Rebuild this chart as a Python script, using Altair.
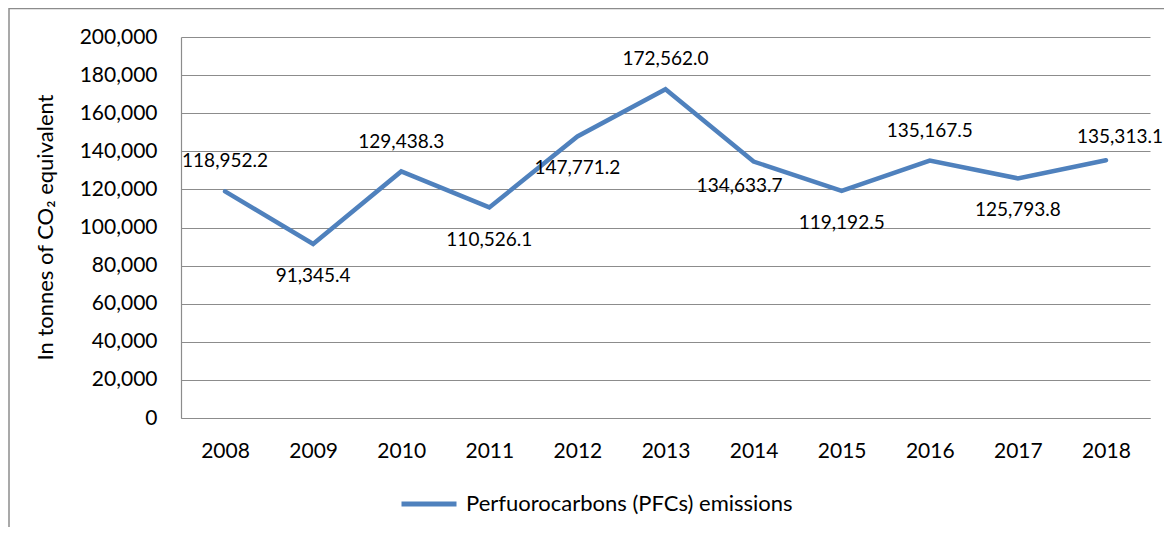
import altair as alt
import pandas as pd

# ---- data ----
years = ["2008", "2009", "2010", "2011", "2012", "2013", "2014", "2015", "2016", "2017", "2018"]
values = [118952.2, 91345.4, 129438.3, 110526.1, 147771.2, 172562.0,
          134633.7, 119192.5, 135167.5, 125793.8, 135313.1]
series_name = "Perfuorocarbons (PFCs) emissions"
y_ticks = [0, 20000, 40000, 60000, 80000, 100000, 120000, 140000, 160000, 180000, 200000]

df = pd.DataFrame({"year": years, "value": values, "series": [series_name] * len(years)})

# ---- style ----
FONT = "Lato, Noto Sans, sans-serif"
BLUE = "#4F81BD"
GRAY = "#8C8C8C"
# label placement (dx, dy) relative to each point, in pixels
label_offsets = {
    "2008": (0, -30), "2009": (0, 32), "2010": (0, -29), "2011": (0, 33),
    "2012": (0, 32), "2013": (0, -30), "2014": (-14, 24), "2015": (0, 32),
    "2016": (0, -30), "2017": (0, 32), "2018": (14, -23),
}

x_enc = alt.X("year:O", scale=alt.Scale(padding=0.5),
              axis=alt.Axis(title=None, labelAngle=0, ticks=False, grid=False,
                            domainColor=GRAY, domainWidth=1.2,
                            labelPadding=22, labelFontSize=21, labelFont=FONT,
                            labelColor="#000000"))
y_enc = alt.Y("value:Q", scale=alt.Scale(domain=[0, 200000], nice=False, zero=True),
              axis=alt.Axis(title="In tonnes of CO\u2082 equivalent", values=y_ticks,
                            format=",d", ticks=False, tickSize=0, labelPadding=24,
                            labelOverlap=False, labelFontSize=21, labelFont=FONT,
                            labelColor="#000000",
                            grid=True, gridColor=GRAY, gridWidth=1.2,
                            domainColor=GRAY, domainWidth=1.2,
                            titleFontSize=22, titleFont=FONT, titleFontWeight="normal",
                            titleColor="#000000", titleAngle=-90, titleAlign="center",
                            titleBaseline="alphabetic", titleX=-129, titleY=190))

line = alt.Chart(df).mark_line(strokeWidth=4.5, strokeCap="round", strokeJoin="miter").encode(
    x=x_enc, y=y_enc,
    color=alt.Color("series:N",
                    scale=alt.Scale(domain=[series_name], range=[BLUE]),
                    legend=alt.Legend(title=None, orient="none", legendX=218, legendY=437,
                                      symbolType="stroke", symbolSize=3025,
                                      symbolStrokeWidth=5, labelFontSize=22,
                                      labelFont=FONT, labelColor="#000000",
                                      labelLimit=0, labelOffset=7, padding=0)),
)

label_layers = []
for yr in years:
    dx, dy = label_offsets[yr]
    label_layers.append(
        alt.Chart(df).mark_text(font=FONT, fontSize=19, color="#000000",
                                dx=dx, dy=dy, baseline="middle", align="center")
        .encode(x=x_enc, y=y_enc, text=alt.Text("value:Q", format=",.1f"))
        .transform_filter(alt.datum.year == yr)
    )

frame_df = pd.DataFrame({"a": [0]})
left_border = alt.Chart(frame_df).mark_rule(color=GRAY, strokeWidth=1.5).encode(
    x=alt.value(-172), y=alt.value(-29), y2=alt.value(520))
top_border = alt.Chart(frame_df).mark_rule(color=GRAY, strokeWidth=1.5).encode(
    x=alt.value(-172), x2=alt.value(1000), y=alt.value(-28.5))

chart = alt.layer(line, *label_layers, left_border, top_border).properties(
    width=969, height=381,
    autosize=alt.AutoSizeParams(type="none"),
    padding={"left": 173, "top": 29, "right": 14, "bottom": 109},
).configure_view(stroke=None)

chart.save("out.html", embed_options={"renderer": "svg", "actions": False})
